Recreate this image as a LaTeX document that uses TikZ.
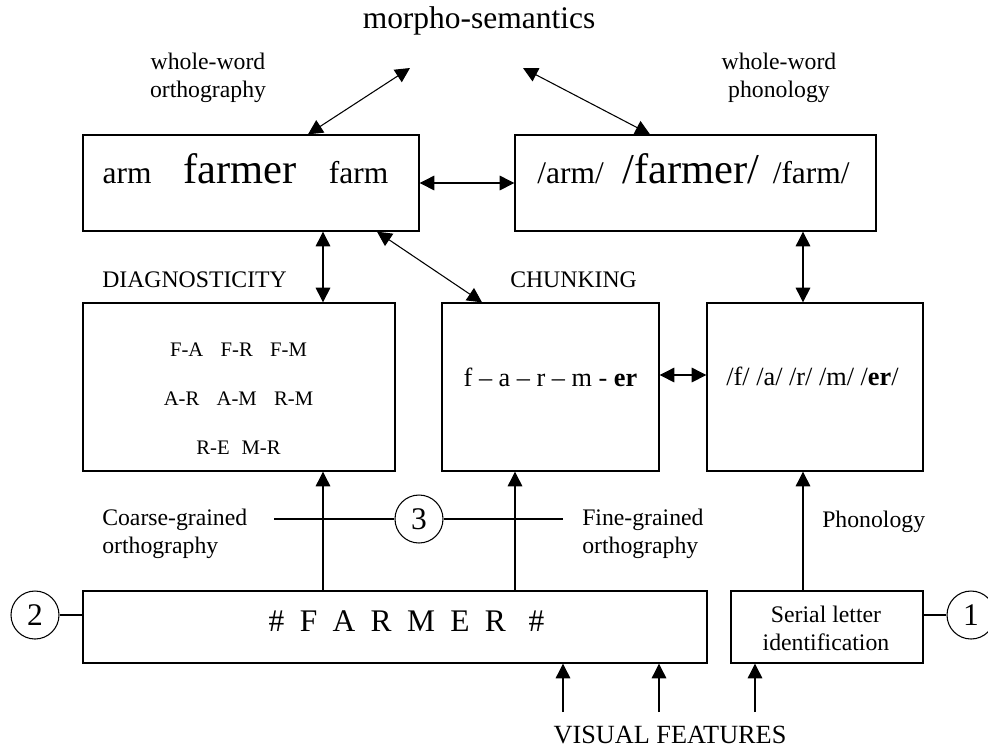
\documentclass[tikz,border=0pt]{standalone}
\usepackage{fontspec}
\setmainfont{Liberation Serif}
\usetikzlibrary{arrows.meta,fit}

\newcommand{\lblsize}{\fontsize{17.8pt}{20.3pt}\selectfont}
\newcommand{\boxsize}{\fontsize{19.7pt}{24pt}\selectfont}
\newcommand{\wordsize}{\fontsize{23.6pt}{28pt}\selectfont}
\newcommand{\bigsize}{\fontsize{31.9pt}{38pt}\selectfont}
\newcommand{\pairsize}{\fontsize{15.5pt}{36.4pt}\selectfont}

\begin{document}
\begin{tikzpicture}[x=0.75pt, y=-0.75pt,
	every node/.style={inner sep=0pt},
	box/.style={draw, line width=1pt, fit={#1}},
	lbl/.style={font=\lblsize},
	num/.style={circle, draw, line width=0.8pt, minimum size=36pt, font=\wordsize},
	every edge/.append style={line width=0.8pt},
	>={Triangle[length=11pt,width=11pt]}]
	\useasboundingbox (0,0) rectangle (988,751);

	\node[font=\wordsize, anchor=base] (ms) at (479,28) {morpho-semantics};
	\coordinate (ms1) at (410,68);
	\coordinate (ms2) at (523,68);
	\node[lbl, align=center, anchor=base] (wwo) at (208,97) {whole-word\\orthography};
	\node[lbl, align=center, anchor=base] (wwp) at (779,97) {whole-word\\phonology};

	% whole words
	\node[box={(83,135) (419,231)}] (orth) {};
	\node[box={(515,135) (876,231)}] (phon) {};
	\node[font=\wordsize, anchor=base] (orthtxt) at (245.5,183) {arm\hspace{24pt}{\bigsize farmer}\hspace{24pt}farm};
	\node[font=\wordsize, anchor=base] (phontxt) at (693.5,183) {/arm/\hspace{14pt}{\bigsize /farmer/}\hspace{10pt}/farm/};

	% middle row
	\node[lbl, anchor=base west] (diaglbl) at (102,287) {DIAGNOSTICITY};
	\node[lbl, anchor=base west] (chunklbl) at (510,287) {CHUNKING};
	\node[box={(83,303) (395,471)}] (diag) {};
	\node[box={(442,303) (659,471)}] (chunk) {};
	\node[box={(707,303) (923,471)}] (phonm) {};
	\node[font=\pairsize, align=center, anchor=base] (diagtxt) at (238.5,454)
		{F-A\hspace{13pt}F-R\hspace{13pt}F-M\\A-R\hspace{13pt}A-M\hspace{13pt}R-M\\R-E\hspace{9pt}M-R};
	\node[font=\boxsize, anchor=base] (chunktxt) at (550.5,386) {f -- a -- r -- m - \textbf{er}};
	\node[font=\boxsize, anchor=base] (phonmtxt) at (812.5,385) {/f/ /a/ /r/ /m/ /\textbf{er}/};

	% input row
	\node[box={(83,591) (707,663)}] (letters) {};
	\node[box={(731,591) (923,663)}] (serial) {};
	\node[font=\wordsize, anchor=base] (letterstxt) at (406.5,631)
		{\#\hspace{11.5pt}F\hspace{11.5pt}A\hspace{11.5pt}R\hspace{11.5pt}M\hspace{11.5pt}E\hspace{11.5pt}R\hspace{17pt}\#};
	\node[lbl, align=center, anchor=base] (serialtxt) at (826,650) {Serial letter\\identification};
	\node[num] (n2) at (35,615) {2};
	\node[num] (n1) at (971,615) {1};
	\node[num] (n3) at (419,519) {3};
	\coordinate (cg) at (274,519);
	\coordinate (fg) at (563,519);
	\node[lbl, align=left, anchor=base west] (coarse) at (102,553) {Coarse-grained\\orthography};
	\node[lbl, align=left, anchor=base west] (fine) at (582,553) {Fine-grained\\orthography};
	\node[lbl, anchor=base west] (phonlbl) at (822,527) {Phonology};
	\node[font=\boxsize, anchor=base] (visual) at (670,743) {VISUAL FEATURES};
	\coordinate (v1) at (563,712);
	\coordinate (v2) at (659,712);
	\coordinate (v3) at (755,712);

	\path[<->] (orth.north -| 308,0) edge (ms1);
	\path[<->] (phon.north -| 650,0) edge (ms2);
	\path[<->] (orth.east) edge (phon.west);
	\path[<->] (orth.south -| 323,0) edge (diag.north -| 323,0);
	\path[<->] (orth.south -| 377,0) edge (chunk.north -| 482,0);
	\path[<->] (phon.south -| 803,0) edge (phonm.north -| 803,0);
	\path[<->] (chunk.east |- 0,375) edge (phonm.west |- 0,375);

	\path[->] (letters.north -| 323,0) edge (diag.south -| 323,0);
	\path[->] (letters.north -| 515,0) edge (chunk.south -| 515,0);
	\path[->] (serial.north -| 803,0) edge (phonm.south -| 803,0);
	\path (cg) edge (n3.west);
	\path (n3.east) edge (fg);
	\path (n2.east) edge (n2 -| letters.west);
	\path (n1.west) edge (n1 -| serial.east);

	\path[->] (v1) edge (v1 |- letters.south);
	\path[->] (v2) edge (v2 |- letters.south);
	\path[->] (v3) edge (v3 |- serial.south);
\end{tikzpicture}
\end{document}
